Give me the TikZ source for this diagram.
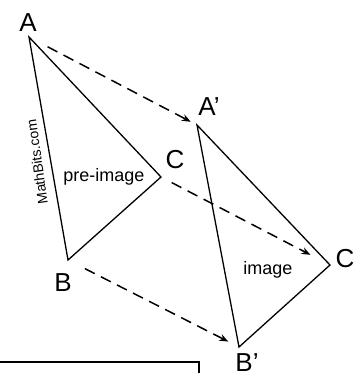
\documentclass[tikz,border=0pt]{standalone}
\usepackage{fontspec}
\setmainfont{Liberation Sans}
\usetikzlibrary{arrows.meta}

\begin{document}
\begin{tikzpicture}[x=1pt,y=-1pt,
  vlbl/.style={inner sep=0pt,font=\fontsize{26}{26}\selectfont},
  tlbl/.style={inner sep=0pt,font=\fontsize{18}{18}\selectfont},
  tri/.style={line width=1.3pt,line join=miter},
  move/.style={line width=1.5pt,dash pattern=on 11pt off 7pt,-{Stealth[length=9pt,width=7pt]}}]
\useasboundingbox (0,0) rectangle (355,373);
% pre-image
\coordinate (A) at (29,37);
\coordinate (B) at (68,260);
\coordinate (C) at (161,177);
% image
\coordinate (A1) at (197,125);
\coordinate (B1) at (239,347);
\coordinate (C1) at (330,265);
\draw[tri] (A)--(B)--(C)--cycle;
\draw[tri] (A1)--(B1)--(C1)--cycle;
\node[vlbl] (la) at (28,23) {A};
\node[vlbl] (lb) at (63,283) {B};
\node[vlbl] (lc) at (175,160) {C};
\node[vlbl] (la1) at (209,107) {A'};
\node[vlbl] (lb1) at (247,363) {B'};
\node[vlbl] (lc1) at (345,259) {C};
\node[tlbl] (pre) at (104,177) {pre-image};
\node[tlbl] (img) at (268,270) {image};
\node[inner sep=0pt,rotate=98,font=\fontsize{14}{14}\selectfont] (mb) at (37,162) {MathBits.com};
% translation arrows
\draw[move,shorten <=21pt,shorten >=7pt] (A)--(A1);
\draw[move,shorten <=12pt,shorten >=22pt] (C)--(C1);
\draw[move,shorten <=19pt,shorten >=12pt] (B)--(B1);
% box at the bottom
\draw[line width=1.2pt] (0,362)--(199,362)--(199,373);
\end{tikzpicture}
\end{document}
